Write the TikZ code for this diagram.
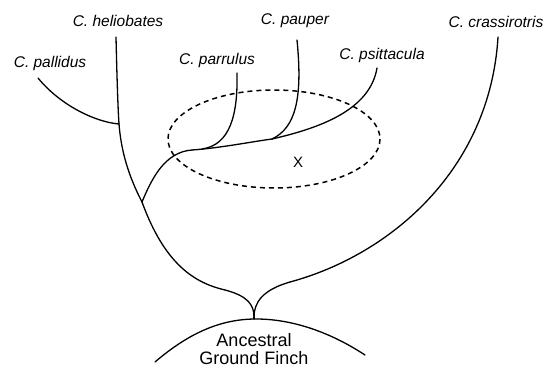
\documentclass[tikz,border=0pt]{standalone}
\usepackage{fontspec}
\setmainfont{Liberation Sans}
\tikzset{
  species/.style={font=\fontsize{15.5}{17}\selectfont\itshape, inner sep=0pt},
  branch/.style={line width=1.3pt, line cap=round},
  island/.style={draw, line width=1.5pt, dash pattern=on 5pt off 4pt}
}
\begin{document}
\begin{tikzpicture}[x=1pt, y=-1pt]
  \useasboundingbox (0,0) rectangle (546,369);

  % labels
  \node[species] (pallidus) at (50,63) {C. pallidus};
  \node[species] (heliobates) at (118,21) {C. heliobates};
  \node[species] (parrulus) at (217,60) {C. parrulus};
  \node[species] (pauper) at (295,21) {C. pauper};
  \node[species] (psittacula) at (382,55) {C. psittacula};
  \node[species] (crassi) at (496,22) {C. crassirotris};
  \node[font=\fontsize{15}{17}\selectfont, inner sep=0pt] (x) at (298,162) {X};
  \node[font=\fontsize{18}{18}\selectfont, align=center, inner sep=0pt] (ancestor) at (254,349) {Ancestral\\Ground Finch};

  % tips and forks
  \coordinate (t1) at (38,78);
  \coordinate (t2) at (116,37);
  \coordinate (t3) at (237,73);
  \coordinate (t4) at (297,40);
  \coordinate (t5) at (377,68);
  \coordinate (t6) at (498,37);
  \coordinate (j1) at (119,124);
  \coordinate (v) at (142,202);
  \coordinate (f1) at (192,150);
  \coordinate (f2) at (202,149);
  \coordinate (f3) at (272,139);
  \coordinate (left) at (225,290);
  \coordinate (right) at (290,282);
  \coordinate (root) at (254,317);
  \coordinate (top) at (256,319);

  % island
  \draw[island] (274,139) ellipse [x radius=106, y radius=49];

  % branches
  \draw[branch] (t1) .. controls (60,105) and (95,122) .. (j1);
  \draw[branch] (t2) .. controls (117,80) and (118,110) .. (j1);
  \draw[branch] (j1) .. controls (121,150) and (128,175) .. (v);
  \draw[branch] (v) .. controls (165,265) and (195,283) .. (left);
  \draw[branch] (left) .. controls (248,296) and (254,305) .. (root);
  \draw[branch] (t6) .. controls (490,170) and (390,255) .. (right);
  \draw[branch] (right) .. controls (262,290) and (254,303) .. (root);
  \draw[branch] (root) -- (254,319);
  \draw[branch] (v) .. controls (152,178) and (165,152) .. (f1);
  \draw[branch] (f1) .. controls (220,148) and (250,142) .. (f3);
  \draw[branch] (f2) .. controls (230,145) and (238,115) .. (t3);
  \draw[branch] (f3) .. controls (295,128) and (303,100) .. (t4);
  \draw[branch] (f3) .. controls (320,128) and (370,110) .. (t5);

  % ancestral arc
  \draw[branch] (155,362) .. controls (190,332) and (222,319) .. (top)
    .. controls (292,319) and (330,332) .. (365,355);
\end{tikzpicture}
\end{document}
